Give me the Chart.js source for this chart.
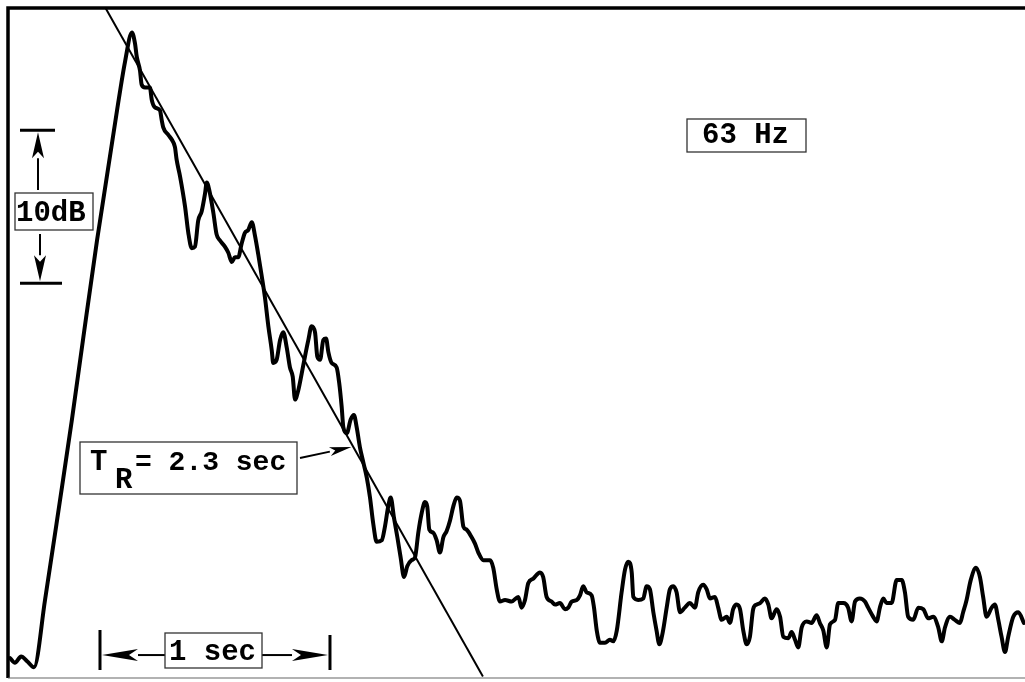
<!DOCTYPE html>
<html>
<head>
<meta charset="utf-8">
<script src="https://cdn.jsdelivr.net/npm/chart.js@4.4.0/dist/chart.umd.min.js"></script>
<style>
  html, body { margin: 0; padding: 0; background: #fff; }
  #wrap { position: relative; width: 1025px; height: 682px; }
</style>
</head>
<body>
<div id="wrap"><canvas id="decay-chart"></canvas></div>
<script>
// level recorder trace, 63 Hz band: time in s, level in dB (0 = top of paper)
var timeSec = [
  0.009, 0.030, 0.057, 0.083, 0.113, 0.161, 0.226, 0.278, 0.326, 0.387, 0.474, 0.509, 0.539,
  0.552, 0.560, 0.574, 0.581, 0.596, 0.617, 0.625, 0.639, 0.661, 0.668, 0.675,
  0.697, 0.712, 0.726, 0.733, 0.748, 0.770, 0.784, 0.799, 0.813, 0.827, 0.842,
  0.857, 0.864, 0.875, 0.893, 0.907, 0.922, 0.943, 0.958, 0.973, 0.987, 1.001,
  1.016, 1.030, 1.045, 1.060, 1.074, 1.088, 1.103, 1.117, 1.132, 1.147, 1.153,
  1.168, 1.183, 1.197, 1.212, 1.226, 1.238, 1.248, 1.262, 1.277, 1.291, 1.306,
  1.320, 1.335, 1.345, 1.357, 1.371, 1.383, 1.393, 1.407, 1.429, 1.440, 1.451,
  1.458, 1.473, 1.490, 1.504, 1.516, 1.530, 1.545, 1.560, 1.574, 1.588, 1.603,
  1.625, 1.639, 1.653, 1.664, 1.678, 1.693, 1.707, 1.722, 1.736, 1.755, 1.770,
  1.784, 1.799, 1.813, 1.823, 1.832, 1.849, 1.864, 1.878, 1.893, 1.907, 1.922,
  1.936, 1.951, 1.965, 1.980, 1.994, 2.016, 2.030, 2.045, 2.067, 2.096, 2.110,
  2.125, 2.139, 2.161, 2.190, 2.219, 2.233, 2.248, 2.262, 2.284, 2.313, 2.327,
  2.342, 2.364, 2.378, 2.400, 2.422, 2.436, 2.451, 2.473, 2.487, 2.501, 2.516,
  2.538, 2.548, 2.560, 2.574, 2.596, 2.617, 2.632, 2.647, 2.668, 2.683, 2.697,
  2.712, 2.719, 2.740, 2.762, 2.777, 2.791, 2.806, 2.820, 2.832, 2.847, 2.864,
  2.878, 2.893, 2.907, 2.922, 2.943, 2.965, 2.987, 3.001, 3.023, 3.038, 3.052,
  3.074, 3.088, 3.103, 3.125, 3.139, 3.153, 3.168, 3.183, 3.197, 3.212, 3.226,
  3.240, 3.255, 3.270, 3.291, 3.306, 3.320, 3.342, 3.357, 3.371, 3.393, 3.407,
  3.422, 3.436, 3.451, 3.473, 3.494, 3.516, 3.530, 3.545, 3.560, 3.574, 3.596,
  3.610, 3.632, 3.653, 3.668, 3.683, 3.704, 3.726, 3.740, 3.762, 3.777, 3.791,
  3.806, 3.820, 3.842, 3.864, 3.886, 3.900, 3.914, 3.936, 3.958, 3.980, 4.001,
  4.023, 4.045, 4.060, 4.074, 4.096, 4.117, 4.139, 4.153, 4.168, 4.186, 4.209,
  4.226, 4.240, 4.255, 4.277, 4.291, 4.306, 4.320, 4.335, 4.349, 4.371, 4.393,
  4.417
];
var levelDb = [
  -42.5, -42.8, -42.4, -42.7, -43.1, -38.7, -32.2, -26.9, -21.7, -15.2, -6.7, -3.5, -1.6,
  -2.3, -3.2, -4.1, -5.0, -5.2, -5.2, -6.0, -6.5, -6.7, -7.3, -7.8,
  -8.3, -8.6, -9.1, -9.9, -11.0, -13.0, -14.7, -15.7, -15.6, -13.9, -13.3,
  -12.1, -11.4, -11.9, -13.4, -14.8, -15.2, -15.6, -16.0, -16.6, -16.3, -16.3,
  -15.4, -14.7, -14.5, -14.0, -14.9, -16.1, -17.5, -18.9, -20.8, -22.4, -23.2,
  -23.0, -21.7, -21.2, -22.2, -23.5, -24.1, -25.6, -25.0, -23.9, -22.8, -21.7,
  -20.8, -21.2, -22.8, -23.0, -21.7, -21.6, -22.5, -23.2, -23.5, -24.5, -26.1,
  -27.4, -27.8, -26.9, -26.6, -27.4, -28.7, -29.7, -30.7, -32.0, -33.7, -34.9,
  -34.8, -33.9, -32.6, -32.0, -33.3, -34.6, -35.9, -37.2, -36.5, -36.1, -35.9,
  -34.3, -33.0, -32.3, -32.6, -34.1, -34.3, -34.8, -35.6, -34.6, -34.2, -33.5,
  -32.6, -32.0, -32.2, -33.9, -34.1, -34.6, -35.0, -35.6, -36.1, -36.1, -36.6,
  -38.0, -38.8, -38.7, -38.8, -38.5, -39.2, -38.7, -37.6, -37.3, -36.9, -37.2,
  -38.5, -38.8, -39.0, -38.9, -39.3, -39.2, -38.8, -38.7, -38.4, -37.8, -38.2,
  -38.4, -39.2, -40.7, -41.5, -41.5, -41.3, -41.4, -40.7, -38.2, -36.7, -36.2,
  -36.9, -38.5, -38.7, -38.6, -37.8, -38.0, -39.5, -40.7, -41.6, -40.8, -39.2,
  -38.0, -37.8, -38.2, -39.5, -39.2, -38.9, -39.2, -38.2, -37.7, -38.0, -38.6,
  -38.5, -39.2, -40.0, -39.8, -40.2, -39.3, -39.0, -39.3, -40.7, -41.6, -41.1,
  -39.3, -39.0, -38.9, -38.6, -39.0, -39.9, -39.3, -39.8, -41.1, -41.2, -40.8,
  -41.3, -41.8, -40.5, -40.1, -40.2, -39.7, -40.2, -40.7, -41.8, -40.3, -40.0,
  -38.9, -38.9, -39.2, -40.1, -38.8, -38.6, -38.8, -39.2, -39.8, -40.1, -39.2,
  -38.6, -38.9, -38.9, -37.4, -37.4, -38.2, -39.8, -40.0, -39.2, -39.3, -39.9,
  -39.8, -40.5, -41.4, -40.5, -39.8, -40.0, -40.2, -39.5, -38.7, -37.4, -36.6,
  -37.2, -38.5, -39.8, -39.2, -39.0, -40.0, -41.1, -42.1, -41.1, -39.8, -39.5,
  -40.2
];
// straight decay line drawn through the trace (T_R = 2.3 s)
var fitTime = [0.424, 2.065];
var fitLevel = [0, -43.7];

var bandText = "63 Hz";
var levelText = "10dB";
var timeText = "1 sec";
var rtSymbol = "T";
var rtSub = "R";
var rtValue = "= 2.3 sec";

var traceData = timeSec.map(function (t, i) { return { x: t, y: levelDb[i] }; });
var fitData = fitTime.map(function (t, i) { return { x: t, y: fitLevel[i] }; });

function arrow(ctx, x0, y0, x1, y1, len, half) {
  var ang = Math.atan2(y1 - y0, x1 - x0);
  var bx = x1 - Math.cos(ang) * len, by = y1 - Math.sin(ang) * len;
  ctx.beginPath();
  ctx.moveTo(x0, y0);
  ctx.lineTo(bx, by);
  ctx.stroke();
  ctx.beginPath();
  ctx.moveTo(x1, y1);
  ctx.lineTo(bx - Math.sin(ang) * half, by + Math.cos(ang) * half);
  ctx.lineTo(bx + Math.cos(ang) * len * 0.25, by + Math.sin(ang) * len * 0.25);
  ctx.lineTo(bx + Math.sin(ang) * half, by - Math.cos(ang) * half);
  ctx.closePath();
  ctx.fill();
}

function box(ctx, l, t, r, b) {
  ctx.save();
  ctx.lineWidth = 1.3;
  ctx.strokeStyle = '#333';
  ctx.strokeRect(l, t, r - l, b - t);
  ctx.restore();
}

var decorations = {
  id: 'decorations',
  afterDatasetsDraw: function (chart) {
    var ctx = chart.ctx, a = chart.chartArea;
    var xs = chart.scales.x, ys = chart.scales.y;
    ctx.save();
    ctx.strokeStyle = '#000';
    ctx.fillStyle = '#000';

    // paper frame
    ctx.lineWidth = 3.5;
    ctx.beginPath();
    ctx.moveTo(a.left, a.bottom);
    ctx.lineTo(a.left, a.top);
    ctx.lineTo(a.right, a.top);
    ctx.stroke();
    ctx.lineWidth = 1.2;
    ctx.strokeStyle = '#666';
    ctx.beginPath();
    ctx.moveTo(a.left, a.bottom);
    ctx.lineTo(a.right, a.bottom);
    ctx.stroke();
    ctx.strokeStyle = '#000';

    ctx.font = 'bold 29px "Liberation Mono"';
    ctx.textBaseline = 'alphabetic';

    // 10 dB scale marker
    var yTop = ys.getPixelForValue(-8), yBot = ys.getPixelForValue(-18);
    ctx.lineWidth = 3;
    ctx.beginPath();
    ctx.moveTo(20, yTop); ctx.lineTo(55, yTop);
    ctx.moveTo(20, yBot); ctx.lineTo(62, yBot);
    ctx.stroke();
    ctx.lineWidth = 2;
    arrow(ctx, 38, 190, 38, yTop + 2, 26, 6);
    arrow(ctx, 40, 234, 40, yBot - 2, 26, 6);
    ctx.fillStyle = '#fff';
    ctx.fillRect(15, 193, 78, 37);
    ctx.fillStyle = '#000';
    box(ctx, 15, 193, 93, 230);
    ctx.fillText(levelText, 16, 221);

    // 1 sec marker
    var x0 = xs.getPixelForValue(0.4), x1 = xs.getPixelForValue(1.4);
    var yM = ys.getPixelForValue(-42.3);
    ctx.lineWidth = 3;
    ctx.beginPath();
    ctx.moveTo(x0, 630); ctx.lineTo(x0, 670);
    ctx.moveTo(x1, 635); ctx.lineTo(x1, 670);
    ctx.stroke();
    ctx.lineWidth = 2;
    arrow(ctx, 165, yM, x0 + 2, yM, 36, 6);
    arrow(ctx, 262, yM, x1 - 2, yM, 36, 6);
    box(ctx, 165, 633, 262, 668);
    ctx.fillText(timeText, 169, 660);

    // reverberation time label, arrow to the fitted line
    var lvl = -28.7;
    var tOnFit = fitTime[0] + (lvl - fitLevel[0]) / (fitLevel[1] - fitLevel[0]) * (fitTime[1] - fitTime[0]);
    box(ctx, 80, 442, 297, 494);
    ctx.fillText(rtSymbol, 90, 470);
    ctx.fillText(rtSub, 115, 488);
    ctx.font = 'bold 28px "Liberation Mono"';
    ctx.fillText(rtValue, 135, 470);
    ctx.lineWidth = 2;
    arrow(ctx, 300, 458, xs.getPixelForValue(tOnFit) - 2, ys.getPixelForValue(lvl), 22, 4.5);

    // frequency band label
    ctx.font = 'bold 29px "Liberation Mono"';
    box(ctx, 687, 119, 806, 152);
    ctx.fillText(bandText, 702, 143);

    ctx.restore();
  }
};

new Chart(document.getElementById('decay-chart'), {
  type: 'line',
  data: {
    datasets: [
      {
        label: 'Decay trace',
        data: traceData,
        borderColor: '#000',
        borderWidth: 4,
        pointRadius: 0,
        cubicInterpolationMode: 'monotone',
        borderJoinStyle: 'round',
        borderCapStyle: 'round',
        fill: false
      },
      {
        label: 'Fit',
        data: fitData,
        borderColor: '#000',
        borderWidth: 2,
        pointRadius: 0,
        fill: false
      }
    ]
  },
  options: {
    responsive: true,
    maintainAspectRatio: false,
    animation: false,
    layout: { padding: { left: 8, top: 8, right: 0, bottom: 4 } },
    plugins: {
      legend: { display: false },
      tooltip: { enabled: false }
    },
    scales: {
      x: { type: 'linear', min: 0, max: 4.422, display: false },
      y: { type: 'linear', min: -43.8, max: 0, display: false }
    }
  },
  plugins: [decorations]
});
</script>
</body>
</html>
